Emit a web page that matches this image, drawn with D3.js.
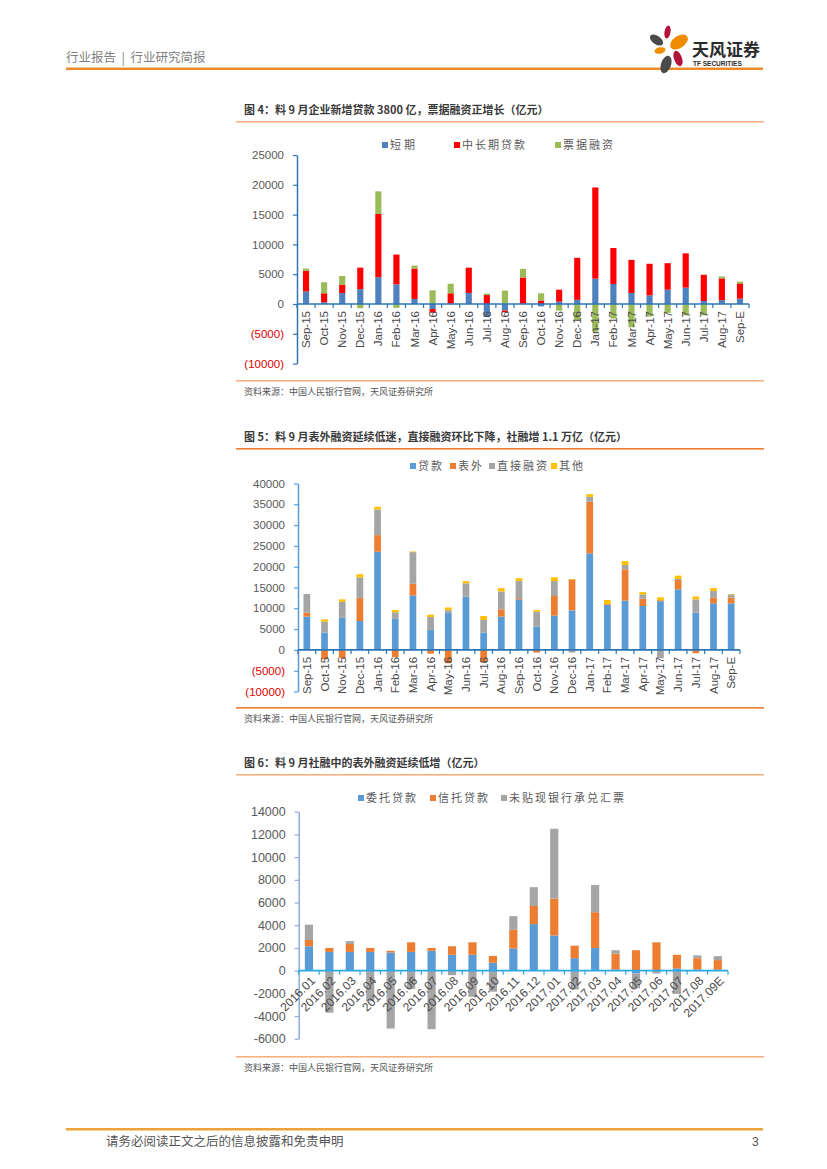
<!DOCTYPE html>
<html><head><meta charset="utf-8">
<script src="https://cdn.jsdelivr.net/npm/d3@7"></script>
<style>
body{margin:0;background:#fff}
svg{display:block}
text{font-family:"Liberation Sans","Noto Sans CJK SC",sans-serif}
.cjk{font-family:"Noto Sans CJK SC","Noto Sans",sans-serif}
</style>
</head><body>
<svg id="page" width="827" height="1169"></svg>
<script>
// ---------- DATA ----------
const months1 = ["Sep-15","Oct-15","Nov-15","Dec-15","Jan-16","Feb-16","Mar-16","Apr-16","May-16","Jun-16","Jul-16","Aug-16","Sep-16","Oct-16","Nov-16","Dec-16","Jan-17","Feb-17","Mar-17","Apr-17","May-17","Jun-17","Jul-17","Aug-17","Sep-E"];
// Chart 4: enterprise new loans
const shortTerm = [2100,300,1850,2500,4500,3300,850,-850,100,1850,-2200,-1100,50,-400,400,700,4250,3350,1850,1450,2400,2750,500,650,900];
const midLong   = [3500,1500,1400,3600,10600,5000,5100,-600,1700,4250,1500,-250,4400,600,2000,7050,15300,6050,5550,5300,4450,5750,4400,3650,2550];
const billFin   = [350,1850,1450,-700,3800,-650,500,2300,1600,0,250,2250,1450,1200,-1100,-2650,-4650,-2450,-3900,-2100,-1500,-1900,-1900,330,300];
const ticks1 = [-10000,-5000,0,5000,10000,15000,20000,25000];

// Chart 5: social financing
const loans     = [8000,4150,7700,6950,23600,7450,13100,4800,8900,12800,4150,8000,12150,5600,8250,9500,23200,10800,11850,10550,11700,14550,8950,11200,11200];
const offBS     = [950,-2250,-2000,5500,4000,-1750,2800,-900,-3200,0,-3050,1750,300,-650,4700,7450,12400,200,7500,1750,250,2250,-800,1350,1350];
const directFin = [4500,2650,3850,4950,6150,1600,7600,3100,650,3200,3050,4300,4100,3600,3600,-650,1200,0,1050,1050,-2000,250,3200,1600,800];
const others    = [0,550,600,800,650,550,150,550,650,550,950,800,700,400,900,100,650,1000,950,550,700,800,700,700,100];
const ticks2 = [-10000,-5000,0,5000,10000,15000,20000,25000,30000,35000,40000];

// Chart 6: off-balance-sheet financing
const months3 = ["2016.01","2016.02","2016.03","2016.04","2016.05","2016.06","2016.07","2016.08","2016.09","2016.10","2016.11","2016.12","2017.01","2017.02","2017.03","2017.04","2017.05","2017.06","2017.07","2017.08","2017.09E"];
const entrusted   = [2150,1650,1650,1650,1600,1650,1750,1400,1400,700,1950,4100,3100,1100,2000,100,-250,50,200,100,80];
const trustLoans  = [550,350,700,350,150,850,250,750,1100,600,1650,1600,3250,1100,3150,1400,1800,2450,1200,1000,850];
const undiscount  = [1350,-3700,250,-2700,-5100,-1600,-5150,-400,-2300,-1850,1200,1650,6150,-1650,2400,300,-1300,-250,-2050,250,350];
const ticks3 = [-6000,-4000,-2000,0,2000,4000,6000,8000,10000,12000,14000];

// ---------- PAGE ----------
const svg = d3.select("#page");

// header
svg.append("text").attr("class","cjk").attr("x",66).attr("y",62).attr("font-size",12.5).attr("fill","#7f7f7f").attr("xml:space","preserve").text("行业报告  |  行业研究简报");
svg.append("rect").attr("x",66).attr("y",67.5).attr("width",697).attr("height",2.5).attr("fill","#ee8a2a");
// logo
const logo = svg.append("g");
[[656.5,40,7.5,4.2,35,"#4a4a4a"],[667.5,32,3,6.5,10,"#b5123a"],[679,42,10,6,-35,"#f08c00"],
 [660,50.5,5.5,3.2,-10,"#f08c00"],[678,58.5,4,8,-20,"#b5123a"],[666,64.5,5,9,20,"#4a4a4a"]]
 .forEach(p=>logo.append("ellipse").attr("cx",p[0]).attr("cy",p[1]).attr("rx",p[2]).attr("ry",p[3])
   .attr("transform",`rotate(${p[4]},${p[0]},${p[1]})`).attr("fill",p[5]));
logo.append("text").attr("class","cjk").attr("x",692).attr("y",56).attr("font-size",17).attr("font-weight","bold").attr("fill","#2b2b2b").text("天风证券");
logo.append("text").attr("x",693).attr("y",66).attr("font-size",6.5).attr("font-weight","bold").attr("fill","#2b2b2b").text("TF SECURITIES");

// footer
svg.append("rect").attr("x",66).attr("y",1128).attr("width",697).attr("height",2.5).attr("fill","#eea23a");
svg.append("text").attr("class","cjk").attr("x",106).attr("y",1146).attr("font-size",12.5).attr("fill","#555").text("请务必阅读正文之后的信息披露和免责申明");
svg.append("text").attr("x",752).attr("y",1146).attr("font-size",12).attr("fill","#555").text("3");

function frame(titleY, title, lineTop, lineTopColor, srcLineY, srcColor){
  svg.append("text").attr("class","cjk").attr("x",244).attr("y",titleY).attr("font-size",11).attr("font-weight","bold").attr("fill","#3a3a3a").text(title);
  svg.append("rect").attr("x",236).attr("y",lineTop).attr("width",528).attr("height",1.6).attr("fill",lineTopColor);
  svg.append("rect").attr("x",236).attr("y",srcLineY).attr("width",528).attr("height",1.6).attr("fill",srcColor);
  svg.append("text").attr("class","cjk").attr("x",244).attr("y",srcLineY+15).attr("font-size",9).attr("fill","#555").text("资料来源：中国人民银行官网，天风证券研究所");
}

function legend(items, y){
  items.forEach(it=>{
    svg.append("rect").attr("x",it.x).attr("y",y-3).attr("width",6).attr("height",6).attr("fill",it.color);
    svg.append("text").attr("class","cjk").attr("x",it.x+8).attr("y",y+4).attr("font-size",11).attr("letter-spacing",it.ls||2).attr("fill","#595959").text(it.name);
  });
}

function stacked(cfg){
  const g = svg.append("g");
  const keys = cfg.series.map(s=>s.key);
  const rows = cfg.categories.map((c,i)=>{const r={cat:c}; cfg.series.forEach(s=>r[s.key]=s.values[i]); return r;});
  const stack = d3.stack().keys(keys).offset(d3.stackOffsetDiverging)(rows);
  const x = d3.scaleBand().domain(cfg.categories).range(cfg.xRange).paddingInner(cfg.pad).paddingOuter(cfg.pad/2);
  const y = d3.scaleLinear().domain(cfg.yDomain).range(cfg.yRange);
  const color = d3.scaleOrdinal().domain(keys).range(cfg.series.map(s=>s.color));
  stack.forEach(layer=>{
    g.append("g").attr("fill",color(layer.key)).selectAll("rect").data(layer).join("rect")
      .attr("x",d=>x(d.data.cat)).attr("width",x.bandwidth())
      .attr("y",d=>y(Math.max(d[0],d[1]))).attr("height",d=>Math.abs(y(d[0])-y(d[1])));
  });
  // y axis
  const ya = g.append("g").attr("transform",`translate(${cfg.xRange[0]},0)`)
    .call(d3.axisLeft(y).tickValues(cfg.ticks).tickSize(4).tickSizeOuter(0).tickPadding(cfg.tickPad||8).tickFormat(cfg.fmt));
  ya.select(".domain").attr("stroke",cfg.yAxisColor).attr("stroke-width",1.5);
  ya.selectAll(".tick line").attr("stroke",cfg.yAxisColor).attr("stroke-width",1.2);
  ya.selectAll(".tick text").attr("font-size",cfg.yFont||11.5).attr("font-family","Liberation Sans")
    .attr("fill",d=> (cfg.redNeg && d<0) ? "#e00000" : "#595959");
  // x axis line at zero
  const y0 = y(0);
  g.append("line").attr("x1",cfg.xRange[0]).attr("x2",cfg.xRange[1]).attr("y1",y0).attr("y2",y0)
    .attr("stroke",cfg.xAxisColor).attr("stroke-width",1.6);
  const step = x.step();
  g.append("g").selectAll("line").data(d3.range(cfg.categories.length+1)).join("line")
    .attr("x1",i=>cfg.xRange[0]+i*step).attr("x2",i=>cfg.xRange[0]+i*step)
    .attr("y1",y0).attr("y2",y0+4).attr("stroke",cfg.xAxisColor).attr("stroke-width",1.2);
  // category labels
  g.append("g").selectAll("text").data(cfg.categories).join("text")
    .attr("transform",d=>{
      const cx = x(d)+x.bandwidth()/2;
      return cfg.rot===-90 ? `translate(${cx},${y0+cfg.labOff}) rotate(-90)` : `translate(${cx+cfg.labDx},${y0+cfg.labOff}) rotate(-45)`;
    })
    .attr("text-anchor","end").attr("dy","0.35em").attr("font-size",cfg.xFont||11.5).attr("fill","#4a4a4a").text(d=>d);
}

const fmtParen = d => d<0 ? `(${-d})` : `${d}`;

// ---------- CHART 4 ----------
frame(114,"图 4：料 9 月企业新增贷款 3800 亿，票据融资正增长（亿元）",121,"#f4b183",380,"#f4b183");
legend([{x:382,name:"短期",color:"#4f81bd",ls:3},{x:454,name:"中长期贷款",color:"#ff0000",ls:2},{x:555,name:"票据融资",color:"#9bbb59",ls:2}],145);
stacked({categories:months1,
  series:[{key:"s",values:shortTerm,color:"#4f81bd"},{key:"m",values:midLong,color:"#ff0000"},{key:"b",values:billFin,color:"#9bbb59"}],
  xRange:[297,749],pad:0.66,yDomain:[-10000,25000],yRange:[363.6,155],ticks:ticks1,fmt:fmtParen,redNeg:true,
  yAxisColor:"#2e75b6",xAxisColor:"#2e75b6",rot:-90,labOff:7,tickPad:9});

// ---------- CHART 5 ----------
frame(441,"图 5：料 9 月表外融资延续低迷，直接融资环比下降，社融增 1.1 万亿（亿元）",448,"#ed7d31",707,"#ed7d31");
legend([{x:410,name:"贷款",color:"#5b9bd5"},{x:450,name:"表外",color:"#ed7d31"},{x:489,name:"直接融资",color:"#a5a5a5"},{x:551,name:"其他",color:"#ffc000"}],466);
stacked({categories:months1,
  series:[{key:"l",values:loans,color:"#5b9bd5"},{key:"o",values:offBS,color:"#ed7d31"},{key:"d",values:directFin,color:"#a5a5a5"},{key:"t",values:others,color:"#ffc000"}],
  xRange:[298,740],pad:0.62,yDomain:[-10000,40000],yRange:[691.5,483.5],ticks:ticks2,fmt:fmtParen,redNeg:true,
  yAxisColor:"#5b9bd5",xAxisColor:"#2e75b6",rot:-90,labOff:7,tickPad:9});

// ---------- CHART 6 ----------
frame(767,"图 6：料 9 月社融中的表外融资延续低增（亿元）",774,"#f4b183",1056,"#f4b183");
legend([{x:358,name:"委托贷款",color:"#5b9bd5"},{x:430,name:"信托贷款",color:"#ed7d31"},{x:501,name:"未贴现银行承兑汇票",color:"#a5a5a5"}],798);
stacked({categories:months3,
  series:[{key:"e",values:entrusted,color:"#5b9bd5"},{key:"t",values:trustLoans,color:"#ed7d31"},{key:"u",values:undiscount,color:"#a5a5a5"}],
  xRange:[298.7,728],pad:0.6,yDomain:[-6000,14000],yRange:[1038.8,811.7],ticks:ticks3,fmt:d=>`${d}`,redNeg:false,
  yAxisColor:"#8eaadb",xAxisColor:"#2aa8e8",rot:-45,labOff:8,labDx:4,xFont:12,yFont:12.5,tickPad:9});
</script>
</body></html>
